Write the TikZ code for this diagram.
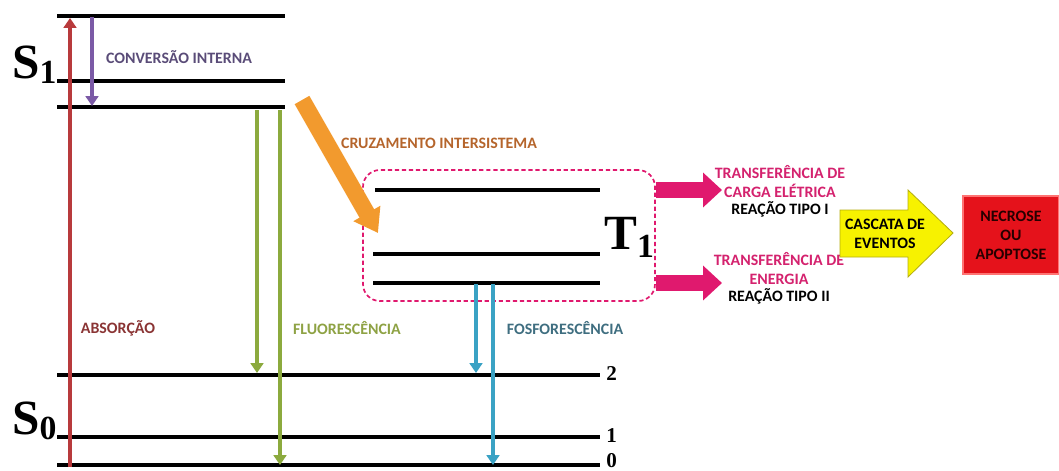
\documentclass[tikz,border=0pt]{standalone}
\usepackage{fontspec}
\setmainfont{Carlito}
\newfontfamily\statefont{Liberation Serif}
\usetikzlibrary{positioning,arrows.meta,fit}

\definecolor{absred}{HTML}{B83A3C}
\definecolor{icpurple}{HTML}{7B5AA6}
\definecolor{icgray}{HTML}{5A4C78}
\definecolor{flgreen}{HTML}{8CAA3E}
\definecolor{fltext}{HTML}{8EA244}
\definecolor{phblue}{HTML}{3AA2C4}
\definecolor{phtext}{HTML}{3F6E80}
\definecolor{iscorange}{HTML}{F29A2E}
\definecolor{isctext}{HTML}{B5652C}
\definecolor{abstext}{HTML}{8A3434}
\definecolor{pinkline}{HTML}{E0196E}
\definecolor{pinktext}{HTML}{D4226E}
\definecolor{cascyellow}{HTML}{F7F200}
\definecolor{cascedge}{HTML}{B5AE10}
\definecolor{deathred}{HTML}{E5121B}

\begin{document}
\begin{tikzpicture}[
    x=0.025cm, y=-0.025cm,
    font=\fontsize{11.3}{13.5}\selectfont\bfseries,
    level/.style={line width=2.8pt},
    state/.style={font=\statefont\bfseries\fontsize{35}{35}\selectfont,
                  inner sep=0pt},
    vib/.style={font=\statefont\bfseries\fontsize{15}{15}\selectfont,
                anchor=west, inner sep=0pt},
    lbl/.style={align=center, inner sep=1pt},
    trans/.style={line width=3.4pt, -{Triangle[width=9pt,length=7pt]}},
    isc/.style={line width=12pt, draw=iscorange,
                -{Triangle[width=21pt,length=16pt]}},
    pinkarrow/.style={line width=12pt, draw=pinkline,
                -{Triangle[width=24pt,length=13.5pt]}},
    t1frame/.style={draw=pinkline, line width=1.2pt, dash pattern=on 3pt off 2pt,
                    rounded corners=12pt, inner sep=0pt},
    cascade/.style={fill=cascyellow, draw=cascedge, line width=0.6pt},
    deathbox/.style={fill=deathred, draw=red!55!white, line width=2pt,
                     minimum width=2.4cm, minimum height=1.95cm, align=center,
                     text=black!85!red},
  ]
  \useasboundingbox (0,0) rectangle (1059,470);

  % --- Singlet S1 ----------------------------------------------------------
  \draw[level] (57,16) -- (285,16);
  \draw[level] (57,81) -- (285,81);
  \draw[level] (57,107) -- (285,107);
  \node[state, anchor=base west] (s1) at (12,78)
    {S\raisebox{-4pt}{\fontsize{24}{24}\selectfont 1}};

  % --- Triplet T1 ----------------------------------------------------------
  \node[t1frame, fit={(363,170) (655,301)}] (t1box) {};
  \draw[level] (375,190) -- (600,190);
  \draw[level] (373,254) -- (600,254);
  \draw[level] (373,283) -- (600,283);
  \node[state, anchor=base west] (t1) at (604,249)
    {T\raisebox{-6pt}{\fontsize{24}{24}\selectfont 1}};

  % --- Ground state S0 -----------------------------------------------------
  \draw[level] (57,375) -- (600,375);
  \draw[level] (57,437) -- (600,437);
  \draw[level] (57,465) -- (600,465);
  \node[state, anchor=base west] (s0) at (12,434)
    {S\raisebox{-4pt}{\fontsize{24}{24}\selectfont 0}};
  \node[vib] (v2) at (606,374) {2};
  \node[vib] (v1) at (606,436) {1};
  \node[vib] (v0) at (606,461) {0};

  % --- Transitions ---------------------------------------------------------
  \coordinate (absbot) at (70,467);
  \coordinate (abstop) at (70,18);
  \coordinate (ictop) at (92,17);
  \coordinate (icbot) at (92,106);
  \coordinate (flatop) at (257,110);
  \coordinate (flabot) at (257,373);
  \coordinate (flbtop) at (280,110);
  \coordinate (flbbot) at (280,465);
  \coordinate (phatop) at (476,284);
  \coordinate (phabot) at (476,373);
  \coordinate (phbtop) at (493,284);
  \coordinate (phbbot) at (493,465);
  \coordinate (isctail) at (302,100);
  \coordinate (isctip) at (378,233);

  \draw[trans, absred] (absbot) -- (abstop);
  \draw[trans, icpurple] (ictop) -- (icbot);
  \draw[trans, flgreen] (flatop) -- (flabot);
  \draw[trans, flgreen] (flbtop) -- (flbbot);
  \draw[trans, phblue] (phatop) -- (phabot);
  \draw[trans, phblue] (phbtop) -- (phbbot);
  \draw[isc] (isctail) -- (isctip);

  \node[lbl, text=icgray] (iclbl) at (179,57) {CONVERSÃO INTERNA};
  \node[lbl, text=isctext] (isclbl) at (439,143) {CRUZAMENTO INTERSISTEMA};
  \node[lbl, text=abstext] (abslbl) at (118,328) {ABSORÇÃO};
  \node[lbl, text=fltext] (fllbl) at (347,328) {FLUORESCÊNCIA};
  \node[lbl, text=phtext] (phlbl) at (565,328) {FOSFORESCÊNCIA};

  % --- Photodynamic reactions ---------------------------------------------
  \coordinate (typeone) at (722,190);
  \coordinate (typetwo) at (722,283);
  \draw[pinkarrow] (t1box.east |- typeone) -- (typeone);
  \draw[pinkarrow] (t1box.east |- typetwo) -- (typetwo);

  \node[lbl, text=pinktext] (tr1) at (780,182)
    {TRANSFERÊNCIA DE\\CARGA ELÉTRICA};
  \node[lbl, below=0pt of tr1] (tr1type) {REAÇÃO TIPO I};
  \node[lbl, text=pinktext] (tr2) at (779,269)
    {TRANSFERÊNCIA DE\\ENERGIA};
  \node[lbl, below=0pt of tr2] (tr2type) {REAÇÃO TIPO II};

  % --- Outcome -------------------------------------------------------------
  \filldraw[cascade] (840,210) -- (908,210) -- (908,190) -- (953,233)
    -- (908,277) -- (908,257) -- (840,257) -- cycle;
  \node[lbl] (casc) at (885,234) {CASCATA DE\\EVENTOS};
  \node[deathbox] (death) at (1011,235) {NECROSE\\OU\\APOPTOSE};

\end{tikzpicture}
\end{document}
